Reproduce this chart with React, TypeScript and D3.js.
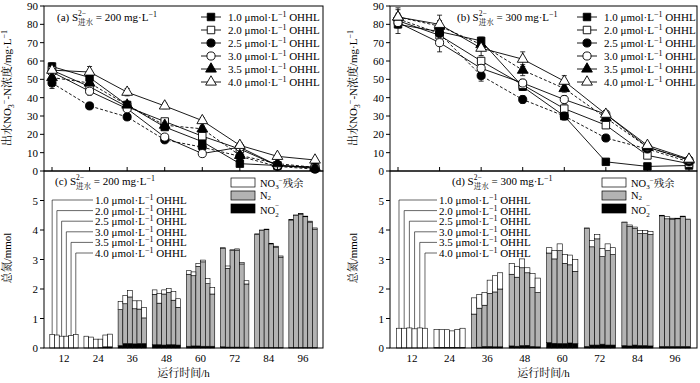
import React from 'react';
import * as d3 from 'd3';

// ---------- DATA ----------
const times = [12, 24, 36, 48, 60, 72, 84, 96];
const doses = ['1.0', '2.0', '2.5', '3.0', '3.5', '4.0'];
const yTicksTop = [0, 10, 20, 30, 40, 50, 60, 70, 80, 90];
const yTicksBottom = [0, 1, 2, 3, 4, 5];

// effluent NO3--N (mg/L), S2- = 200 mg/L, one row per OHHL dose
const no3Conc200: number[][] = [
  [57, 51, 36, 24, 16, 4, 3, 1.5],
  [55, 46, 35, 27, 19, 12, 3, 2],
  [48, 35.5, 29.5, 17, 13, 8, 2.5, 1],
  [54, 43.5, 34, 18.5, 9.5, 13, 3, 2],
  [51, 48, 36, 25, 23, 8.5, 4, 2],
  [55, 54, 43, 35.5, 27.5, 14, 8, 6],
];
const no3Err200: number[][] = [
  [2, 2, 2, 1.5, 1.5, 1, 1, 0.5],
  [2, 2, 2, 1.5, 1.5, 1, 1, 0.5],
  [3, 1.5, 1.5, 1.5, 1, 1, 0.5, 0.5],
  [2, 2, 1.5, 1.5, 1, 1, 0.5, 0.5],
  [2, 2, 2, 2, 1.5, 1, 1, 0.5],
  [2, 3, 2, 1.5, 1.5, 1.5, 1, 1],
];
// effluent NO3--N (mg/L), S2- = 300 mg/L
const no3Conc300: number[][] = [
  [80, 76, 71, 46, 30, 5, 2.5, 3],
  [82, 74, 60, 47, 34, 25, 8.5, 4],
  [83, 75, 52, 39, 30, 18, 12, 5],
  [81, 70, 56, 48, 39, 31, 13, 6],
  [84, 79, 69, 55, 45, 29, 13, 6],
  [84, 80, 67, 61, 49, 31, 14, 6.5],
];
const no3Err300: number[][] = [
  [5, 3, 2, 2, 2, 1, 1, 0.5],
  [3, 3, 2, 2, 2, 1.5, 1, 0.5],
  [3, 3, 3, 2, 2, 1.5, 1, 0.5],
  [3, 5, 2, 2, 2, 1.5, 1, 1],
  [4, 3, 3, 3, 2, 1.5, 1, 1],
  [5, 5, 4, 4, 3, 2, 1.5, 1],
];

// total nitrogen (mmol): rows = time groups, columns = OHHL doses
const no2_200: number[][] = [
  [0, 0, 0, 0, 0, 0],
  [0, 0, 0, 0.01, 0.04, 0.04],
  [0.08, 0.15, 0.15, 0.14, 0.15, 0.15],
  [0.11, 0.11, 0.1, 0.11, 0.11, 0.1],
  [0.06, 0.07, 0.07, 0.06, 0.06, 0.06],
  [0.04, 0.03, 0.03, 0.03, 0.03, 0.03],
  [0.01, 0.01, 0.01, 0.01, 0.01, 0.01],
  [0.01, 0.01, 0.01, 0.01, 0.01, 0.01],
];
const n2_200: number[][] = [
  [0, 0, 0, 0, 0, 0],
  [0, 0, 0, 0, 0, 0],
  [1.22, 1.35, 1.58, 1.19, 1.17, 0.87],
  [1.71, 1.41, 1.73, 1.77, 1.51, 1.28],
  [2.44, 2.38, 2.7, 2.86, 2.12, 1.77],
  [3.33, 2.67, 3.27, 3.29, 2.82, 2.14],
  [3.84, 3.97, 4.0, 3.52, 3.41, 3.07],
  [4.33, 4.48, 4.53, 4.44, 4.26, 4.02],
];
const no3Res200: number[][] = [
  [0.46, 0.44, 0.4, 0.4, 0.42, 0.46],
  [0.4, 0.37, 0.3, 0.29, 0.4, 0.43],
  [0.27, 0.28, 0.22, 0.27, 0.28, 0.35],
  [0.15, 0.33, 0.14, 0.14, 0.3, 0.29],
  [0.12, 0.13, 0.1, 0.06, 0.17, 0.22],
  [0.03, 0.08, 0.03, 0.04, 0.05, 0.11],
  [0.02, 0.02, 0.02, 0.02, 0.03, 0.04],
  [0.02, 0.02, 0.02, 0.02, 0.03, 0.04],
];
const no2_300: number[][] = [
  [0, 0, 0, 0, 0, 0],
  [0.02, 0.02, 0.02, 0.02, 0.02, 0.02],
  [0.02, 0.03, 0.05, 0.05, 0.04, 0.04],
  [0.07, 0.06, 0.08, 0.09, 0.05, 0.04],
  [0.18, 0.16, 0.15, 0.15, 0.17, 0.15],
  [0.05, 0.1, 0.1, 0.13, 0.1, 0.1],
  [0.08, 0.07, 0.1, 0.08, 0.08, 0.07],
  [0.05, 0.05, 0.05, 0.05, 0.05, 0.05],
];
const n2_300: number[][] = [
  [0, 0, 0, 0, 0, 0],
  [0, 0, 0, 0, 0, 0],
  [1.13, 1.32, 1.4, 1.8, 1.86, 1.96],
  [2.43, 2.34, 2.64, 2.46, 2.0, 1.84],
  [3.04, 2.86, 3.15, 2.72, 2.65, 2.45],
  [4.0, 3.33, 3.6, 2.97, 3.2, 3.07],
  [4.17, 4.05, 3.95, 3.8, 3.8, 3.78],
  [4.43, 4.33, 4.32, 4.33, 4.4, 4.3],
];
const no3Res300: number[][] = [
  [0.67, 0.67, 0.68, 0.65, 0.68, 0.67],
  [0.61, 0.6, 0.6, 0.56, 0.61, 0.65],
  [0.55, 0.47, 0.43, 0.45, 0.55, 0.55],
  [0.37, 0.37, 0.3, 0.17, 0.47, 0.49],
  [0.18, 0.28, 0.23, 0.3, 0.33, 0.4],
  [0.02, 0.22, 0.15, 0.27, 0.23, 0.23],
  [0.02, 0.05, 0.05, 0.1, 0.1, 0.1],
  [0.02, 0.07, 0.03, 0.02, 0.02, 0.02],
];

// ---------- STYLE ----------
const FONT = "'Times New Roman', 'Liberation Serif', 'Noto Serif CJK SC', 'Noto Sans CJK SC', serif";
const GRAY = '#b3b3b3';
const markerShapes = [d3.symbolSquare, d3.symbolSquare, d3.symbolCircle, d3.symbolCircle, d3.symbolTriangle, d3.symbolTriangle];
const markerFilled = [true, false, true, false, true, false];
const markerSizes = [56, 56, 52, 52, 50, 50];
const lineDash = [null, null, '3,2', null, '3,2', null];

const yTop = d3.scaleLinear().domain([0, 90]).range([171, 6]);
const yBot = d3.scaleLinear().domain([0, 6]).range([348, 171]);

type PanelGeom = { left: number; right: number };

function STitle({ x, y, tag, val }: { x: number; y: number; tag: string; val: string }) {
  return (
    <text x={x} y={y} fontSize={11} fontFamily={FONT}>
      {`(${tag}) S`}
      <tspan dy={-5} fontSize={7.5}>2−</tspan>
      <tspan dx={-8} dy={9} fontSize={7.5}>进水</tspan>
      <tspan dy={-4}>{` = ${val} mg·L`}</tspan>
      <tspan dy={-4} fontSize={8}>−1</tspan>
    </text>
  );
}

function DoseLabel({ x, y, dose, wide }: { x: number; y: number; dose: string; wide?: boolean }) {
  return (
    <text x={x} y={y} fontSize={11} fontFamily={FONT}>
      {`${dose} μmol·L`}
      <tspan dy={-4} fontSize={8}>−1</tspan>
      <tspan dy={4}>{wide ? '  OHHL' : ' OHHL'}</tspan>
    </text>
  );
}

function LinePanel({ g, values, errors, tag, val, legendX, titleX }: { g: PanelGeom; values: number[][]; errors: number[][]; tag: string; val: string; legendX: number; titleX: number }) {
  const x = d3.scaleLinear().domain([12, 96]).range([g.left + 8, g.right - 8]);
  const line = d3.line<number>().x((_, i) => x(times[i])).y((v) => yTop(v));
  return (
    <g>
      {values.map((s, si) => (
        <path key={'l' + si} d={line(s) || ''} fill="none" stroke="#000" strokeWidth={0.9} strokeDasharray={lineDash[si] || undefined} />
      ))}
      {values.map((s, si) =>
        s.map((v, i) => {
          const e = errors[si][i];
          const cx = x(times[i]);
          return (
            <g key={'e' + si + '-' + i} stroke="#000" strokeWidth={0.8}>
              <line x1={cx} x2={cx} y1={yTop(v + e)} y2={yTop(v - e)} />
              <line x1={cx - 2.5} x2={cx + 2.5} y1={yTop(v + e)} y2={yTop(v + e)} />
              <line x1={cx - 2.5} x2={cx + 2.5} y1={yTop(v - e)} y2={yTop(v - e)} />
            </g>
          );
        })
      )}
      {values.map((s, si) =>
        s.map((v, i) => (
          <path
            key={'m' + si + '-' + i}
            d={d3.symbol().type(markerShapes[si]).size(markerSizes[si])() || ''}
            transform={`translate(${x(times[i])},${yTop(v)})`}
            fill={markerFilled[si] ? '#000' : '#fff'}
            stroke="#000"
            strokeWidth={0.9}
          />
        ))
      )}
      {/* axes */}
      <rect x={g.left} y={6} width={g.right - g.left} height={165} fill="none" stroke="#000" strokeWidth={1} />
      {yTicksTop.map((t) => (
        <g key={'yt' + t}>
          <line x1={g.left - 4} x2={g.left} y1={yTop(t)} y2={yTop(t)} stroke="#000" />
          <text x={g.left - 6} y={yTop(t) + 4} fontSize={11} textAnchor="end" fontFamily={FONT}>{t}</text>
        </g>
      ))}
      {times.map((t) => (
        <line key={'xt' + t} x1={x(t)} x2={x(t)} y1={171} y2={167} stroke="#000" />
      ))}
      <STitle x={titleX} y={21} tag={tag} val={val} />
      {/* legend */}
      {doses.map((d, si) => {
        const ly = 17 + si * 13;
        return (
          <g key={'lg' + si}>
            <line x1={legendX - 10} x2={legendX + 10} y1={ly} y2={ly} stroke="#000" strokeWidth={0.9} />
            <path
              d={d3.symbol().type(markerShapes[si]).size(markerSizes[si])() || ''}
              transform={`translate(${legendX},${ly})`}
              fill={markerFilled[si] ? '#000' : '#fff'}
              stroke="#000"
              strokeWidth={0.9}
            />
            <DoseLabel x={legendX + 17} y={ly + 4} dose={d} />
          </g>
        );
      })}
      {/* y title */}
      <text transform={`translate(${g.left - 33},88) rotate(-90)`} textAnchor="middle" fontSize={11} fontFamily={FONT}>
        出水NO
        <tspan dy={3} fontSize={8}>3</tspan>
        <tspan dy={-7} fontSize={8}>−</tspan>
        <tspan dy={4}>-N浓度/mg·L</tspan>
        <tspan dy={-4} fontSize={8}>−1</tspan>
      </text>
    </g>
  );
}

function BarPanel({ g, no2, n2, no3, tag, val, labelX, wide, titleX }: { g: PanelGeom; no2: number[][]; n2: number[][]; no3: number[][]; tag: string; val: string; labelX: number; wide?: boolean; titleX: number }) {
  const band = d3.scaleBand<number>().domain(times).range([g.left, g.right]).paddingInner(0.17).paddingOuter(0.17);
  const inner = d3.scaleBand<number>().domain(d3.range(6)).range([0, band.bandwidth()]);
  const flat = times.flatMap((t, gi) => doses.map((_, di) => ({ t, di, no2: no2[gi][di], n2: n2[gi][di], no3: no3[gi][di] })));
  const stack = d3.stack<any>().keys(['no2', 'n2', 'no3'])(flat);
  const fills: Record<string, string> = { no2: '#000', n2: GRAY, no3: '#fff' };
  const rowY = (i: number) => 200 + i * 10.6;
  return (
    <g>
      {stack.map((layer) =>
        layer.map((seg, i) => {
          const d = flat[i];
          const h = yBot(seg[0]) - yBot(seg[1]);
          if (h <= 0) return null;
          return (
            <rect
              key={layer.key + i}
              x={(band(d.t) as number) + (inner(d.di) as number)}
              y={yBot(seg[1])}
              width={inner.bandwidth()}
              height={h}
              fill={fills[layer.key]}
              stroke="#000"
              strokeWidth={0.6}
            />
          );
        })
      )}
      <rect x={g.left} y={171} width={g.right - g.left} height={177} fill="none" stroke="#000" strokeWidth={1} />
      {yTicksBottom.map((t) => (
        <g key={'yb' + t}>
          <line x1={g.left - 4} x2={g.left} y1={yBot(t)} y2={yBot(t)} stroke="#000" />
          <text x={g.left - 6} y={yBot(t) + 4} fontSize={11} textAnchor="end" fontFamily={FONT}>{t}</text>
        </g>
      ))}
      {times.map((t) => (
        <text key={'xl' + t} x={(band(t) as number) + band.bandwidth() / 2} y={362} fontSize={11} textAnchor="middle" fontFamily={FONT}>{t}</text>
      ))}
      <text x={(g.left + g.right) / 2} y={377} fontSize={11} textAnchor="middle" fontFamily={FONT}>运行时间/h</text>
      <text transform={`translate(${g.left - 33},258) rotate(-90)`} textAnchor="middle" fontSize={11} fontFamily={FONT}>总氮/mmol</text>
      <STitle x={titleX} y={185} tag={tag} val={val} />
      {/* dose leader lines at first group */}
      {doses.map((d, di) => {
        const total = no2[0][di] + n2[0][di] + no3[0][di];
        const cx = (band(times[0]) as number) + (inner(di) as number) + inner.bandwidth() / 2;
        const ry = rowY(di);
        return (
          <g key={'dl' + di}>
            <polyline points={`${cx},${yBot(total)} ${cx},${ry} ${labelX - 2},${ry}`} fill="none" stroke="#000" strokeWidth={0.6} />
            <DoseLabel x={labelX} y={ry + 4} dose={d} wide={wide} />
          </g>
        );
      })}
    </g>
  );
}

function BarLegend({ x }: { x: number }) {
  const items = [
    { fill: '#fff', y: 178 },
    { fill: GRAY, y: 191 },
    { fill: '#000', y: 204 },
  ];
  return (
    <g fontFamily={FONT} fontSize={10.5}>
      {items.map((it, i) => (
        <rect key={i} x={x} y={it.y} width={24} height={9} fill={it.fill} stroke="#000" strokeWidth={0.7} />
      ))}
      <text x={x + 29} y={186.5}>
        NO<tspan dy={2} fontSize={7}>3</tspan>
        <tspan dy={-6} fontSize={7}>−</tspan>
        <tspan dy={4}>残余</tspan>
      </text>
      <text x={x + 29} y={198.5}>
        N<tspan dy={1.5} fontSize={7}>2</tspan>
      </text>
      <text x={x + 29} y={214}>
        NO<tspan dy={2.5} fontSize={7}>2</tspan>
        <tspan dx={-3.5} dy={-8.5} fontSize={7}>−</tspan>
      </text>
    </g>
  );
}

export default function App() {
  const L: PanelGeom = { left: 44, right: 323 };
  const R: PanelGeom = { left: 390, right: 697 };
  return (
    <svg width={700} height={383} style={{ position: 'absolute', left: 0, top: 0, background: '#fff' }} fontFamily={FONT}>
      <rect x={0} y={0} width={700} height={383} fill="#fff" />
      <LinePanel g={L} values={no3Conc200} errors={no3Err200} tag="a" val="200" legendX={211} titleX={57} />
      <LinePanel g={R} values={no3Conc300} errors={no3Err300} tag="b" val="300" legendX={587} titleX={457} />
      <BarPanel g={L} no2={no2_200} n2={n2_200} no3={no3Res200} tag="c" val="200" labelX={95} titleX={55} />
      <BarPanel g={R} no2={no2_300} n2={n2_300} no3={no3Res300} tag="d" val="300" labelX={439} wide titleX={452} />
      <BarLegend x={231} />
      <BarLegend x={602} />
    </svg>
  );
}
